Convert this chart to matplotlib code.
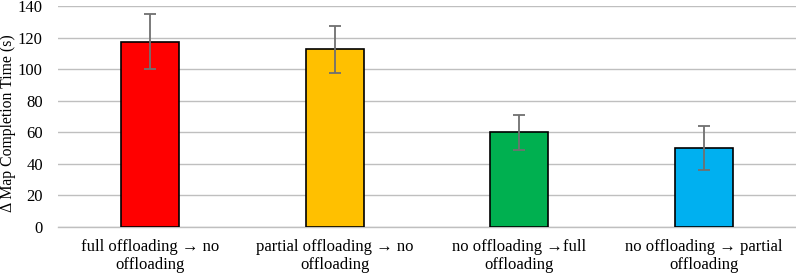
import numpy as np
import matplotlib.pyplot as plt

plt.rcParams['font.family'] = ['Liberation Serif', 'DejaVu Serif']

labels = ["full offloading \u2192 no\noffloading",
          "partial offloading \u2192 no\noffloading",
          "no offloading \u2192full\noffloading",
          "no offloading \u2192 partial\noffloading"]
values = [117.5, 112.5, 60, 50]
errors = [17.5, 14.8, 11, 14]
colors = ["#FF0000", "#FFC000", "#00B050", "#00B0F0"]

fig, ax = plt.subplots(figsize=(7.96, 2.74), dpi=100)
fig.subplots_adjust(left=0.073, right=1.0, top=0.978, bottom=0.172)

x = np.arange(len(values))
ax.bar(x, values, width=0.315, color=colors, edgecolor="black", linewidth=1.2, zorder=3)
ax.errorbar(x, values, yerr=errors, fmt="none", ecolor="#707070", elinewidth=1.3,
            capsize=4, capthick=1.3, zorder=4)

ax.set_xlim(-0.5, 3.5)
ax.set_ylim(0, 140)
ax.set_yticks(np.arange(0, 141, 20))
ax.set_xticks(x)
ax.set_xticklabels(labels, fontsize=12, linespacing=1.1)
ax.tick_params(axis="y", labelsize=12, length=0, pad=11)
ax.tick_params(axis="x", length=0, pad=9)
ax.set_ylabel("\u0394 Map Completion Time (s)", fontsize=11.3)
# place the y label close to the left edge like the original
ax.yaxis.set_label_coords(-0.057, 0.47)

ax.grid(axis="y", color="#BFBFBF", linewidth=1, zorder=0)
for s in ["top", "right", "left"]:
    ax.spines[s].set_visible(False)
ax.spines["bottom"].set_color("#BFBFBF")
ax.spines["bottom"].set_linewidth(1)

fig.savefig("out.png", dpi=100)
